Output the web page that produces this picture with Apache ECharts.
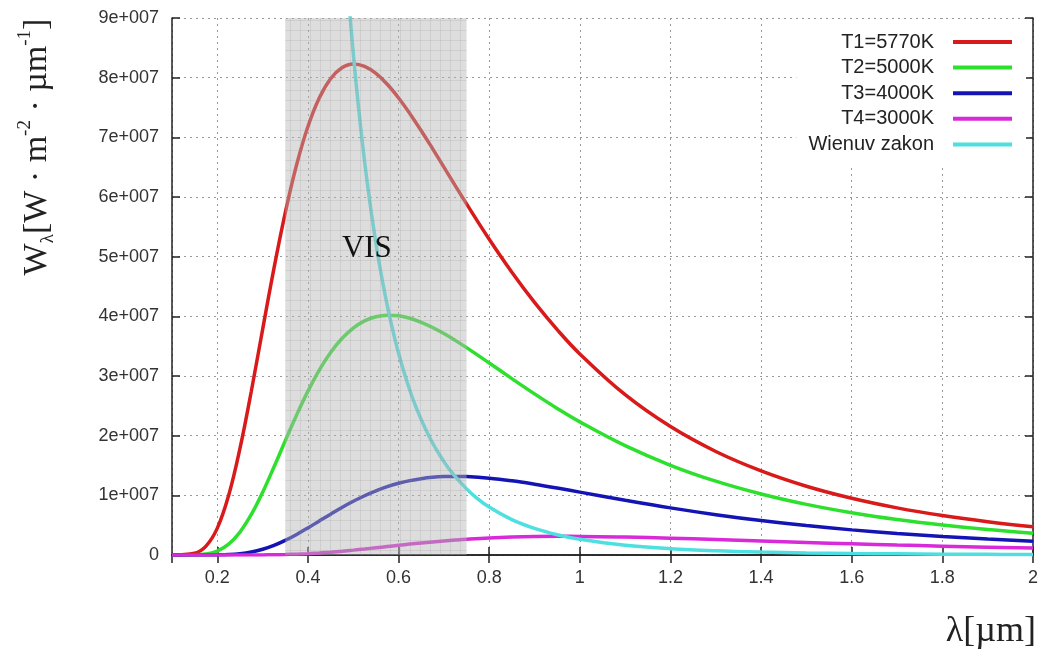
<!DOCTYPE html>
<html><head><meta charset="utf-8">
<script src="https://cdn.jsdelivr.net/npm/echarts@6/dist/echarts.min.js"></script>
<style>html,body{margin:0;padding:0;background:#fff}#c{width:1050px;height:657px}</style>
</head><body><div id="c"></div>
<script>
// wavelength grid (µm) for the Planck curves
const lambda = [0.1,0.15,0.175,0.2,0.225,0.25,0.275,0.3,0.325,0.35,0.375,0.4,0.425,0.45,0.475,0.5,0.525,0.55,0.575,0.6,0.625,0.65,0.675,0.7,0.725,0.75,0.8,0.85,0.9,0.95,1.0,1.1,1.2,1.3,1.4,1.5,1.6,1.7,1.8,1.9,2.0];
// spectral exitance W·m^-2·µm^-1
const t1 = [0,3.0e5,1.48e6,4.50e6,9.98e6,1.786e7,2.745e7,3.782e7,4.805e7,5.740e7,6.540e7,7.182e7,7.660e7,7.983e7,8.165e7,8.23e7,8.190e7,8.072e7,7.889e7,7.660e7,7.397e7,7.111e7,6.810e7,6.502e7,6.192e7,5.885e7,5.292e7,4.739e7,4.233e7,3.777e7,3.370e7,2.686e7,2.152e7,1.735e7,1.410e7,1.153e7,9.51e6,7.90e6,6.61e6,5.57e6,4.72e6];
const t2 = [0,2.3e4,1.65e5,6.60e5,1.81e6,3.84e6,6.79e6,1.051e7,1.474e7,1.915e7,2.347e7,2.747e7,3.098e7,3.393e7,3.628e7,3.803e7,3.924e7,3.994e7,4.020e7,4.009e7,3.967e7,3.900e7,3.813e7,3.711e7,3.597e7,3.475e7,3.218e7,2.956e7,2.700e7,2.457e7,2.231e7,1.832e7,1.504e7,1.237e7,1.022e7,8.48e6,7.08e6,5.94e6,5.02e6,4.26e6,3.64e6];
const t3 = [0,0,2.7e3,1.8e4,7.4e4,2.16e5,4.96e5,9.56e5,1.61e6,2.45e6,3.445e6,4.54e6,5.696e6,6.85e6,7.963e6,9.00e6,9.936e6,1.076e7,1.1449e7,1.202e7,1.2463e7,1.279e7,1.3012e7,1.314e7,1.3175e7,1.314e7,1.288e7,1.2431e7,1.186e7,1.1222e7,1.054e7,9.18e6,7.90e6,6.76e6,5.77e6,4.93e6,4.21e6,3.61e6,3.11e6,2.68e6,2.32e6];
const t4 = [0,0,0,0,0,0,6e3,1.76e4,4.0e4,8.0e4,1.408e5,2.27e5,3.39e5,4.77e5,6.376e5,8.18e5,1.0115e6,1.214e6,1.4205e6,1.626e6,1.8251e6,2.015e6,2.1937e6,2.358e6,2.5063e6,2.638e6,2.852e6,3.0e6,3.088e6,3.1245e6,3.118e6,3.007e6,2.815e6,2.583e6,2.339e6,2.100e6,1.875e6,1.668e6,1.482e6,1.316e6,1.169e6];
// Wien's displacement locus
const wienLambda = [0.46,0.47,0.48,0.49,0.5,0.51,0.52,0.53,0.54,0.55,0.56,0.57,0.58,0.6,0.62,0.64,0.67,0.7,0.72,0.75,0.77,0.8,0.85,0.9,0.95,1.0,1.1,1.2,1.3,1.4,1.5,1.6,1.7,1.8,1.9,2.0];
const wien = [1.277e8,1.1465e8,1.032e8,9.309e7,8.41e7,7.621e7,6.92e7,6.288e7,5.73e7,5.225e7,4.775e7,4.37e7,4.006e7,3.38e7,2.87e7,2.449e7,1.948e7,1.565e7,1.359e7,1.108e7,9.714e6,8.03e6,5.926e6,4.45e6,3.398e6,2.63e6,1.63e6,1.06e6,7.1e5,4.9e5,3.5e5,2.5e5,1.9e5,1.4e5,1.1e5,8e4];
const seriesNames = ['T1=5770K','T2=5000K','T3=4000K','T4=3000K','Wienuv zakon'];
const seriesColors = ['#d81a1a','#2ee02e','#1414b4','#d82ad8','#4ee0e0'];
const visBand = [0.35, 0.75];
const visLabelPos = [0.53, 5.13e7];
const yTickLabels = ['0','1e+007','2e+007','3e+007','4e+007','5e+007','6e+007','7e+007','8e+007','9e+007'];

const pc = document.createElement('canvas');
pc.width = 10; pc.height = 10;
const g = pc.getContext('2d');
g.fillStyle = 'rgba(180,180,180,0.45)';
g.fillRect(0,0,10,10);
g.fillStyle = 'rgba(140,140,140,0.18)';
g.fillRect(0,0,10,1);
g.fillRect(0,0,1,10);

const chart = echarts.init(document.getElementById('c'), null, {renderer:'canvas'});
const pair = (xs, ys) => xs.map((x,i)=>[x, ys[i]]);
const curves = [t1,t2,t3,t4];
const series = curves.map((d,i)=>({
  name: seriesNames[i], type:'line', data: pair(lambda,d), showSymbol:false, symbol:'none',
  smooth:0.4, lineStyle:{width:3.5, color:seriesColors[i]}, itemStyle:{color:seriesColors[i]}, z:2, clip:true
}));
series.push({name: seriesNames[4], type:'line', data: pair(wienLambda,wien), showSymbol:false, symbol:'none',
  smooth:0.4, lineStyle:{width:3.5, color:seriesColors[4]}, itemStyle:{color:seriesColors[4]}, z:2, clip:true});
series.push({name:'VIS', type:'line', data:[], z:10, silent:true,
  markArea:{silent:true, z:10, itemStyle:{color:{image:pc, repeat:'repeat'}}, data:[[{xAxis:visBand[0]},{xAxis:visBand[1]}]]}});

const axisLineStyle = {color:'#222', width:1.5};
chart.setOption({
  animation:false,
  backgroundColor:'#fff',
  grid:{left:172, right:17, top:18, bottom:102, containLabel:false},
  legend:{
    data: seriesNames, orient:'vertical', align:'right', right:24, top:19, z:20,
    icon:'rect', itemWidth:59, itemHeight:4, itemGap:5.6, backgroundColor:'#fff',
    padding:[13,14,10,12],
    textStyle:{fontFamily:'Liberation Sans', fontSize:20, color:'#222', padding:[0,14,0,0]}
  },
  xAxis:[{
    type:'value', min:0.1, max:2, splitNumber:10, position:'bottom',
    axisLine:{show:true, lineStyle:axisLineStyle}, axisTick:{show:true, inside:true, length:8, lineStyle:axisLineStyle},
    axisLabel:{showMinLabel:false, margin:14, fontFamily:'Liberation Sans', fontSize:18, color:'#333',
      formatter:v=>{const r=Math.round(v*10); return (r%2===0)? String(+(r/10).toFixed(1)) : '';}},
    splitLine:{show:true, lineStyle:{color:'#999', type:[2,4], width:1}}
  },{
    type:'value', min:0.1, max:2, splitNumber:10, position:'top',
    axisLine:{show:true, lineStyle:axisLineStyle}, axisTick:{show:true, inside:true, length:8, lineStyle:axisLineStyle},
    axisLabel:{show:false}, splitLine:{show:false}
  }],
  yAxis:[{
    type:'value', min:0, max:9e7, interval:1e7, position:'left',
    axisLine:{show:true, lineStyle:axisLineStyle}, axisTick:{show:true, inside:true, length:8, lineStyle:axisLineStyle},
    axisLabel:{margin:13, fontFamily:'Liberation Sans', fontSize:18, color:'#333',
      formatter:v=>yTickLabels[Math.round(v/1e7)]},
    splitLine:{show:true, lineStyle:{color:'#999', type:[2,4], width:1}}
  },{
    type:'value', min:0, max:9e7, interval:1e7, position:'right',
    axisLine:{show:true, lineStyle:axisLineStyle}, axisTick:{show:true, inside:true, length:8, lineStyle:axisLineStyle},
    axisLabel:{show:false}, splitLine:{show:false}
  }],
  series: series
});

const visPx = chart.convertToPixel({xAxisIndex:0, yAxisIndex:0}, visLabelPos);
chart.setOption({
  graphic:[
    {type:'text', x:37, y:147, rotation:Math.PI/2, z:20,
      style:{text:'{m|W}{s|λ}{m|[W · m}{p|-2}{m| · µm}{p|-1}{m|]}', align:'center', verticalAlign:'middle',
        rich:{
          m:{fontFamily:'Liberation Serif', fontSize:34, lineHeight:42, fill:'#222', verticalAlign:'middle'},
          s:{fontFamily:'Liberation Serif', fontSize:19, lineHeight:42, fill:'#222', verticalAlign:'bottom'},
          p:{fontFamily:'Liberation Serif', fontSize:19, lineHeight:42, fill:'#222', verticalAlign:'top'}
        }}},
    {type:'text', x:1036, y:632, z:20,
      style:{text:'λ[µm]', align:'right', verticalAlign:'middle', font:'36px "Liberation Serif"', fill:'#222'}},
    {type:'text', x:visPx[0], y:visPx[1], z:30,
      style:{text:'VIS', align:'center', verticalAlign:'middle', font:'31px "Liberation Serif"', fill:'#111'}}
  ]
});
</script></body></html>
